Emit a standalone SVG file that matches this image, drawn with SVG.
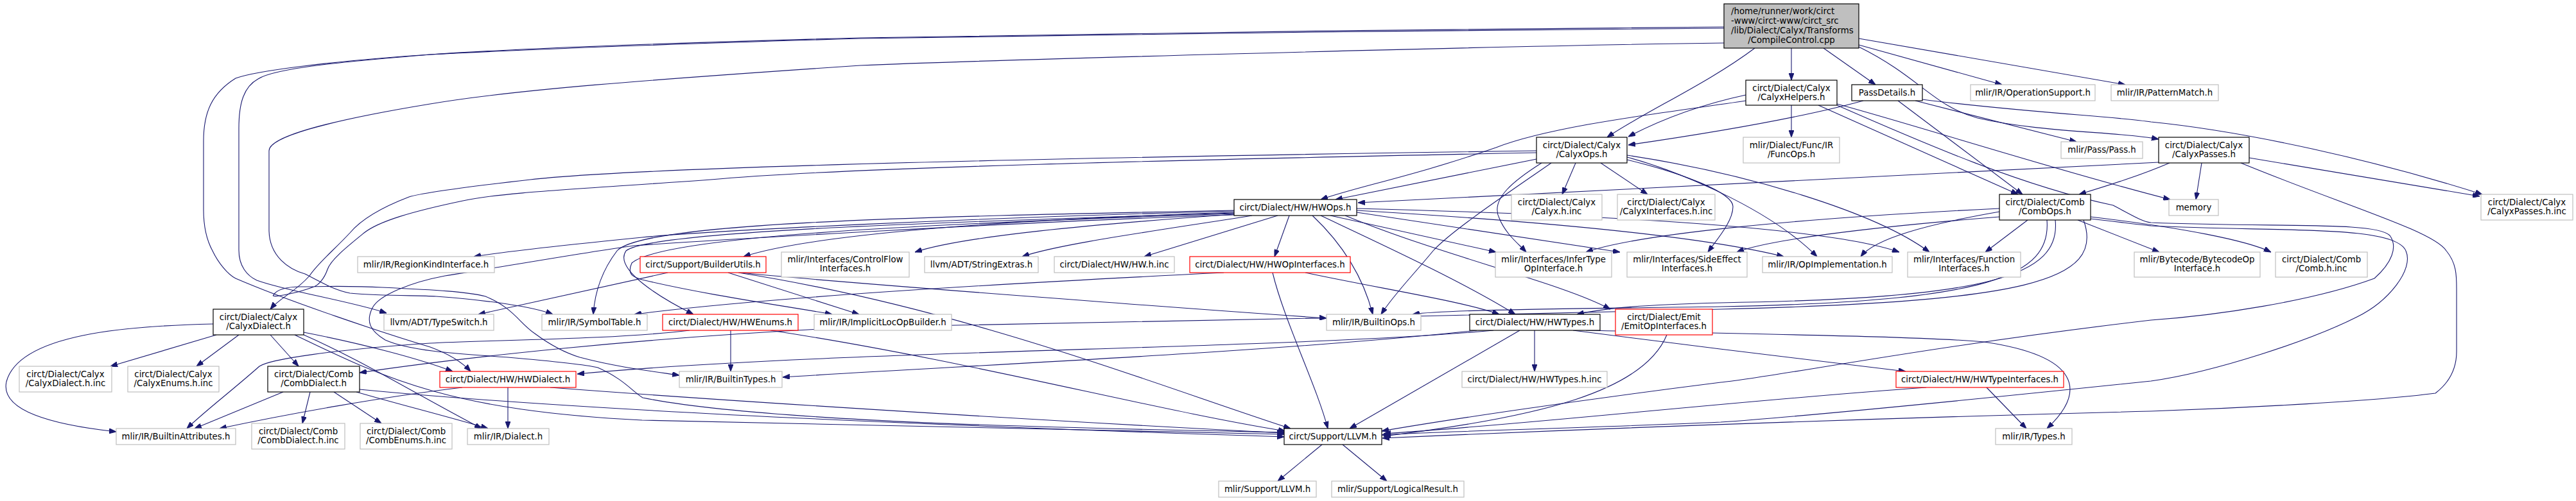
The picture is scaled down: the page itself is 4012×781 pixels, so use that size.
<svg xmlns="http://www.w3.org/2000/svg" width="4012" height="781" viewBox="0 0 4012 781">
<style>
text{font-family:"DejaVu Sans","Liberation Sans",sans-serif;font-size:13.33px;text-anchor:middle;fill:#000}
.n rect{fill:#fff;stroke:#000;stroke-width:1.2}
.g rect{fill:#fff;stroke:#bfbfbf;stroke-width:1.2}
.r rect{fill:#fff;stroke:#ff0000;stroke-width:1.2}
.root rect{fill:#bfbfbf;stroke:#000;stroke-width:1.2}
#edges path{fill:none;stroke:#191970;stroke-width:1.1;marker-end:url(#a)}
</style>
<defs>
<marker id="a" markerWidth="11" markerHeight="8" refX="11" refY="4" orient="auto" markerUnits="userSpaceOnUse"><path d="M0,0L11,4L0,8z" fill="#191970" stroke="#191970" stroke-width="1"/></marker>
</defs>
<rect width="4012" height="781" fill="#fff"/>
<g id="edges">
<path d="M2790,75 L2790,125"/>
<path d="M2840,75 L2921,132"/>
<path d="M2895,70 L3118,132"/>
<path d="M2895,60 L3310,132"/>
<path d="M2733,75 C2660,130 2560,175 2503,214"/>
<path d="M2895,73 C2990,120 3010,165 3080,184 C3180,207 3300,205 3362,217"/>
<path d="M2685,44 C2300,46 1600,55 1340,60 C1000,70 800,78 670,85 C550,95 430,105 402,123 C380,135 372,160 372,200 L372,390 C372,415 385,430 400,437 C450,455 540,468 602,488"/>
<path d="M2685,67 C2300,72 1500,95 1340,102 C1000,125 800,140 670,162 C500,190 419,215 419,235 L419,360 C420,400 450,420 475,427 C500,440 520,452 545,457 C600,462 650,460 679,462 C760,468 830,478 861,490"/>
<path d="M2685,42 C2300,44 1600,54 1340,59 C1000,68 800,76 670,85 C520,95 400,110 367,122 C330,145 317,175 317,220 L317,327 C317,360 325,380 331,391 C340,410 355,428 367,434 C450,470 600,520 670,541 C700,552 720,565 733,579"/>
<path d="M2719,148 C2640,165 2580,190 2536,213"/>
<path d="M2790,164 L2790,214"/>
<path d="M2832,164 L3143,303"/>
<path d="M2861,162 C3000,200 3200,265 3380,311"/>
<path d="M2719,157 C2600,175 2420,195 2330,230 C2200,275 2110,292 2057,311"/>
<path d="M2861,164 C3000,225 3150,290 3291,320 C3320,335 3335,345 3350,347 C3550,355 3700,345 3722,367 C3735,385 3725,410 3698,434 C3600,470 3450,492 3350,499 C3000,540 2750,590 2680,596 C2450,625 2250,655 2152,672"/>
<path d="M2902,157 C2800,185 2660,208 2536,226"/>
<path d="M2956,157 L3150,303"/>
<path d="M2983,157 L3234,221"/>
<path d="M2994,155 C3150,175 3300,182 3350,190 C3500,205 3700,250 3866,303"/>
<path d="M2393,235 C1700,245 1000,260 826,280 C720,292 660,300 637,307 C590,325 560,345 545,363 C520,390 495,410 482,430 C460,455 435,465 421,482"/>
<path d="M2393,238 C1800,250 1300,262 1107,280 C900,295 780,300 721,313 C640,330 590,345 567,363 C540,385 515,405 510,420 C505,435 495,445 489,447 C460,458 420,465 426,460 C430,452 445,447 468,447 C520,446 560,446 595,448 C680,452 730,455 756,462 C800,480 810,505 833,520 C860,540 880,550 903,557 C960,572 1010,578 1058,585"/>
<path d="M2454,254 L2433,303"/>
<path d="M2493,254 L2566,303"/>
<path d="M2393,248 L2080,311"/>
<path d="M2416,254 C2350,300 2260,360 2232,391 C2200,430 2170,460 2151,490"/>
<path d="M2401,254 C2360,280 2320,310 2335,340 C2345,365 2365,380 2377,393"/>
<path d="M2534,245 C2600,262 2750,320 2830,400"/>
<path d="M2534,242 C2720,270 2920,330 3005,393"/>
<path d="M2534,249 C2620,270 2699,300 2699,322 C2699,345 2675,372 2660,393"/>
<path d="M1922,329 C1500,340 1100,360 1000,370 C900,380 800,390 738,400"/>
<path d="M1922,331 C1500,345 1250,370 1158,400"/>
<path d="M1922,334 C1700,350 1500,368 1425,393"/>
<path d="M1950,336 C1800,360 1650,380 1592,400"/>
<path d="M1990,336 L1782,400"/>
<path d="M2008,336 L1985,400"/>
<path d="M2044,336 C2080,370 2120,420 2138,490"/>
<path d="M2057,336 C2150,380 2280,440 2360,490"/>
<path d="M2072,336 L2330,393"/>
<path d="M2113,331 L2523,393"/>
<path d="M2113,328 C2400,345 2650,368 2778,400"/>
<path d="M2113,325 C2500,335 2850,355 2958,393"/>
<path d="M2095,336 C2250,400 2430,440 2508,482"/>
<path d="M1922,328 C1400,338 1000,348 961,391 C935,425 926,460 924,490"/>
<path d="M1922,332 C1400,348 1010,362 975,391 C955,420 1030,465 1080,490"/>
<path d="M1922,333 C1400,350 1030,370 984,410 C975,430 990,433 1000,436 C1100,460 1230,478 1296,490"/>
<path d="M1922,335 C1600,345 1100,375 987,383 C900,395 760,420 693,430 C640,440 590,460 580,480 C570,500 575,515 600,530 C640,548 720,552 791,557 C860,563 910,568 931,573 C970,590 985,610 1001,620 C1200,660 1700,668 2000,674"/>
<path d="M1906,425 C1600,440 1200,462 988,490"/>
<path d="M1982,425 C2000,500 2050,600 2068,668"/>
<path d="M2033,425 C2150,450 2280,470 2335,490"/>
<path d="M1040,425 L745,490"/>
<path d="M1134,425 L1338,490"/>
<path d="M1153,425 C1300,440 1900,485 2066,496"/>
<path d="M1150,425 C1500,480 1800,600 2010,668"/>
<path d="M1138,515 L1138,579"/>
<path d="M1200,515 C1500,560 1800,640 2002,672"/>
<path d="M1074,515 C950,530 750,530 670,535 C520,545 420,560 404,571 C360,610 320,640 291,668"/>
<path d="M2390,515 L2390,579"/>
<path d="M2367,515 L2102,668"/>
<path d="M2450,515 C2600,535 2850,565 2968,579"/>
<path d="M2470,515 C2800,522 3000,525 3090,533 C3240,555 3250,610 3188,668"/>
<path d="M2326,515 C2000,545 1300,545 899,583"/>
<path d="M2300,515 C2000,548 1500,570 1219,588"/>
<path d="M2596,522 C2560,610 2400,650 2155,680"/>
<path d="M3114,330 C3000,350 2920,372 2898,400"/>
<path d="M3158,343 L3092,393"/>
<path d="M3236,343 L3363,393"/>
<path d="M3256,338 C3400,355 3500,375 3537,393"/>
<path d="M3256,341 C3300,346 3330,350 3350,352 C3550,362 3730,350 3747,391 C3760,420 3720,470 3671,494 C3600,530 3450,580 3350,594 C3100,620 2800,650 2680,658 C2450,668 2250,672 2152,678"/>
<path d="M3188,343 C3195,430 3100,470 2680,478 C2400,482 2250,483 2200,490"/>
<path d="M3201,343 C3210,430 3100,465 2680,472 C2560,475 2500,480 2456,490"/>
<path d="M3245,343 C3280,440 3150,470 2680,482 C2200,495 1500,505 1340,510 C1000,525 700,560 560,581"/>
<path d="M3114,325 C2800,340 2550,365 2470,393"/>
<path d="M3114,338 C2900,355 2750,375 2705,393"/>
<path d="M3362,253 C3100,270 2700,290 2115,316"/>
<path d="M3379,254 C3330,275 3280,290 3238,303"/>
<path d="M3429,254 L3420,311"/>
<path d="M3503,246 L3862,306"/>
<path d="M3490,254 C3650,320 3790,360 3810,391 C3826,410 3826,430 3826,450 L3826,548 C3826,580 3810,600 3793,613 C3700,625 3500,636 3350,641 C3000,650 2600,663 2153,683"/>
<path d="M337,522 L172,571"/>
<path d="M372,522 L306,571"/>
<path d="M421,522 L465,571"/>
<path d="M332,505 C200,508 30,520 10,595 C0,640 80,662 181,673"/>
<path d="M473,518 C560,535 650,558 705,579"/>
<path d="M459,522 C600,590 700,640 1000,655 C1500,668 1800,672 2000,677"/>
<path d="M473,522 C560,560 640,610 750,668"/>
<path d="M441,611 L303,668"/>
<path d="M483,611 L471,660"/>
<path d="M520,611 L594,660"/>
<path d="M555,611 C620,630 700,650 760,668"/>
<path d="M560,607 C900,640 1500,665 2000,681"/>
<path d="M791,604 L791,668"/>
<path d="M720,604 C600,618 450,645 342,668"/>
<path d="M857,604 C1200,630 1700,660 2000,675"/>
<path d="M3094,604 L3156,668"/>
<path d="M3000,604 C2700,625 2400,660 2155,676"/>
<path d="M2059,693 L1990,750"/>
<path d="M2091,693 L2160,750"/>
</g>
<g id="root" class="root"><rect x="2685" y="6" width="210" height="69"/><text x="2696" y="22" style="text-anchor:start">/home/runner/work/circt</text><text x="2696" y="37" style="text-anchor:start">-www/circt-www/circt_src</text><text x="2696" y="51.5" style="text-anchor:start">/lib/Dialect/Calyx/Transforms</text><text x="2790" y="66.5">/CompileControl.cpp</text></g>
<g id="calyxhelpers" class="n"><rect x="2719" y="125" width="142" height="39"/><text x="2790" y="141.5">circt/Dialect/Calyx</text><text x="2790" y="155.5">/CalyxHelpers.h</text></g>
<g id="passdetails" class="n"><rect x="2884" y="132" width="110" height="25"/><text x="2939" y="149">PassDetails.h</text></g>
<g id="operationsupport" class="g"><rect x="3069" y="132" width="194" height="25"/><text x="3166" y="149">mlir/IR/OperationSupport.h</text></g>
<g id="patternmatch" class="g"><rect x="3288" y="132" width="167" height="25"/><text x="3371.5" y="149">mlir/IR/PatternMatch.h</text></g>
<g id="calyxops" class="n"><rect x="2393" y="214" width="141" height="40"/><text x="2463.5" y="230.5">circt/Dialect/Calyx</text><text x="2463.5" y="245">/CalyxOps.h</text></g>
<g id="funcops" class="g"><rect x="2715" y="214" width="150" height="40"/><text x="2790" y="230.5">mlir/Dialect/Func/IR</text><text x="2790" y="245">/FuncOps.h</text></g>
<g id="pass" class="g"><rect x="3210" y="221" width="127" height="26"/><text x="3273.5" y="238">mlir/Pass/Pass.h</text></g>
<g id="calyxpasses" class="n"><rect x="3362" y="214" width="141" height="40"/><text x="3432.5" y="230.5">circt/Dialect/Calyx</text><text x="3432.5" y="245">/CalyxPasses.h</text></g>
<g id="hwops" class="n"><rect x="1922" y="311" width="191" height="25"/><text x="2017.5" y="328">circt/Dialect/HW/HWOps.h</text></g>
<g id="calyxhinc" class="g"><rect x="2354" y="303" width="141" height="40"/><text x="2424.5" y="319.5">circt/Dialect/Calyx</text><text x="2424.5" y="334">/Calyx.h.inc</text></g>
<g id="calyxinterfacesinc" class="g"><rect x="2519" y="303" width="152" height="40"/><text x="2595" y="319.5">circt/Dialect/Calyx</text><text x="2595" y="334">/CalyxInterfaces.h.inc</text></g>
<g id="combops" class="n"><rect x="3114" y="303" width="142" height="40"/><text x="3185" y="319.5">circt/Dialect/Comb</text><text x="3185" y="334">/CombOps.h</text></g>
<g id="memory" class="g"><rect x="3378" y="311" width="77" height="25"/><text x="3416.5" y="328">memory</text></g>
<g id="calyxpassesinc" class="g"><rect x="3864" y="303" width="143" height="40"/><text x="3935.5" y="319.5">circt/Dialect/Calyx</text><text x="3935.5" y="334">/CalyxPasses.h.inc</text></g>
<g id="regionkind" class="g"><rect x="557" y="400" width="213" height="25"/><text x="663.5" y="417">mlir/IR/RegionKindInterface.h</text></g>
<g id="builderutils" class="r"><rect x="997" y="400" width="196" height="25"/><text x="1095" y="417">circt/Support/BuilderUtils.h</text></g>
<g id="controlflow" class="g"><rect x="1217" y="393" width="199" height="39"/><text x="1316.5" y="409">mlir/Interfaces/ControlFlow</text><text x="1316.5" y="423">Interfaces.h</text></g>
<g id="stringextras" class="g"><rect x="1440" y="400" width="177" height="25"/><text x="1528.5" y="417">llvm/ADT/StringExtras.h</text></g>
<g id="hwhinc" class="g"><rect x="1642" y="400" width="187" height="25"/><text x="1735.5" y="417">circt/Dialect/HW/HW.h.inc</text></g>
<g id="hwopinterfaces" class="r"><rect x="1853" y="400" width="250" height="25"/><text x="1978" y="417">circt/Dialect/HW/HWOpInterfaces.h</text></g>
<g id="infertype" class="g"><rect x="2329" y="393" width="181" height="39"/><text x="2419.5" y="409">mlir/Interfaces/InferType</text><text x="2419.5" y="423">OpInterface.h</text></g>
<g id="sideeffect" class="g"><rect x="2534" y="393" width="187" height="39"/><text x="2627.5" y="409">mlir/Interfaces/SideEffect</text><text x="2627.5" y="423">Interfaces.h</text></g>
<g id="opimplementation" class="g"><rect x="2745" y="400" width="202" height="25"/><text x="2846" y="417">mlir/IR/OpImplementation.h</text></g>
<g id="functioninterfaces" class="g"><rect x="2971" y="393" width="176" height="39"/><text x="3059" y="409">mlir/Interfaces/Function</text><text x="3059" y="423">Interfaces.h</text></g>
<g id="bytecode" class="g"><rect x="3324" y="393" width="196" height="39"/><text x="3422" y="409">mlir/Bytecode/BytecodeOp</text><text x="3422" y="423">Interface.h</text></g>
<g id="combhinc" class="g"><rect x="3544" y="393" width="143" height="39"/><text x="3615.5" y="409">circt/Dialect/Comb</text><text x="3615.5" y="423">/Comb.h.inc</text></g>
<g id="calyxdialect" class="n"><rect x="332" y="482" width="141" height="40"/><text x="402.5" y="498.5">circt/Dialect/Calyx</text><text x="402.5" y="513">/CalyxDialect.h</text></g>
<g id="typeswitch" class="g"><rect x="598" y="490" width="171" height="25"/><text x="683.5" y="507">llvm/ADT/TypeSwitch.h</text></g>
<g id="symboltable" class="g"><rect x="844" y="490" width="164" height="25"/><text x="926" y="507">mlir/IR/SymbolTable.h</text></g>
<g id="hwenums" class="r"><rect x="1032" y="490" width="211" height="25"/><text x="1137.5" y="507">circt/Dialect/HW/HWEnums.h</text></g>
<g id="implicitloc" class="g"><rect x="1268" y="490" width="214" height="25"/><text x="1375" y="507">mlir/IR/ImplicitLocOpBuilder.h</text></g>
<g id="builtinops" class="g"><rect x="2066" y="490" width="147" height="25"/><text x="2139.5" y="507">mlir/IR/BuiltinOps.h</text></g>
<g id="hwtypes" class="n"><rect x="2289" y="490" width="203" height="25"/><text x="2390.5" y="507">circt/Dialect/HW/HWTypes.h</text></g>
<g id="emitopinterfaces" class="r"><rect x="2516" y="482" width="151" height="40"/><text x="2591.5" y="498.5">circt/Dialect/Emit</text><text x="2591.5" y="513">/EmitOpInterfaces.h</text></g>
<g id="calyxdialectinc" class="g"><rect x="30" y="571" width="144" height="40"/><text x="102" y="587.5">circt/Dialect/Calyx</text><text x="102" y="602">/CalyxDialect.h.inc</text></g>
<g id="calyxenumsinc" class="g"><rect x="199" y="571" width="142" height="40"/><text x="270" y="587.5">circt/Dialect/Calyx</text><text x="270" y="602">/CalyxEnums.h.inc</text></g>
<g id="combdialect" class="n"><rect x="417" y="571" width="143" height="40"/><text x="488.5" y="587.5">circt/Dialect/Comb</text><text x="488.5" y="602">/CombDialect.h</text></g>
<g id="hwdialect" class="r"><rect x="685" y="579" width="212" height="25"/><text x="791" y="596">circt/Dialect/HW/HWDialect.h</text></g>
<g id="builtintypes" class="g"><rect x="1058" y="579" width="160" height="25"/><text x="1138" y="596">mlir/IR/BuiltinTypes.h</text></g>
<g id="hwtypesinc" class="g"><rect x="2277" y="579" width="226" height="25"/><text x="2390" y="596">circt/Dialect/HW/HWTypes.h.inc</text></g>
<g id="hwtypeinterfaces" class="r"><rect x="2953" y="579" width="261" height="25"/><text x="3083.5" y="596">circt/Dialect/HW/HWTypeInterfaces.h</text></g>
<g id="builtinattributes" class="g"><rect x="181" y="668" width="186" height="25"/><text x="274" y="685">mlir/IR/BuiltinAttributes.h</text></g>
<g id="combdialectinc" class="g"><rect x="392" y="660" width="145" height="40"/><text x="464.5" y="676.5">circt/Dialect/Comb</text><text x="464.5" y="691">/CombDialect.h.inc</text></g>
<g id="combenumsinc" class="g"><rect x="561" y="660" width="143" height="40"/><text x="632.5" y="676.5">circt/Dialect/Comb</text><text x="632.5" y="691">/CombEnums.h.inc</text></g>
<g id="dialect" class="g"><rect x="728" y="668" width="127" height="25"/><text x="791.5" y="685">mlir/IR/Dialect.h</text></g>
<g id="circtllvm" class="n"><rect x="2000" y="668" width="152" height="25"/><text x="2076" y="685">circt/Support/LLVM.h</text></g>
<g id="types" class="g"><rect x="3108" y="668" width="119" height="25"/><text x="3167.5" y="685">mlir/IR/Types.h</text></g>
<g id="mlirllvm" class="g"><rect x="1898" y="750" width="152" height="25"/><text x="1974" y="767">mlir/Support/LLVM.h</text></g>
<g id="logicalresult" class="g"><rect x="2074" y="750" width="206" height="25"/><text x="2177" y="767">mlir/Support/LogicalResult.h</text></g>
</svg>
